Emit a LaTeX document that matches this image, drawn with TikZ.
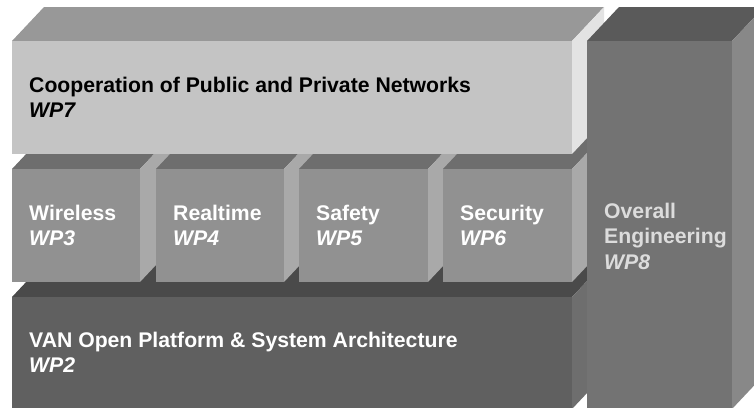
\documentclass[tikz,border=0pt]{standalone}
\usepackage{fontspec}
\setmainfont{Liberation Sans}
\definecolor{topA}{HTML}{989898}\definecolor{frontA}{HTML}{C4C4C4}\definecolor{sideA}{HTML}{E3E3E3}
\definecolor{topB}{HTML}{6E6E6E}\definecolor{frontB}{HTML}{919191}\definecolor{sideB}{HTML}{A9A9A9}
\definecolor{topC}{HTML}{4A4A4A}\definecolor{frontC}{HTML}{606060}\definecolor{sideC}{HTML}{6E6E6E}
\definecolor{topD}{HTML}{5A5A5A}\definecolor{frontD}{HTML}{737373}\definecolor{sideD}{HTML}{888888}
\definecolor{txtD}{HTML}{DCDCDC}
% #1 left x, #2 right x, #3 top y, #4 bottom y, #5 colour set
\newcommand{\wpblock}[5]{%
  \fill[top#5]   (#1,#3) -- ++(32,-34) -- (#2+32,#3-34) -- (#2,#3) -- cycle;
  \fill[side#5]  (#2,#3) -- ++(32,-34) -- (#2+32,#4-34) -- (#2,#4) -- cycle;
  \fill[front#5] (#1,#3) rectangle (#2,#4);
}
\tikzset{
  lbl/.style={anchor=base west, inner sep=0pt, font=\fontsize{21.2}{25}\selectfont\bfseries},
  wp/.style={lbl, font=\fontsize{21.2}{25}\selectfont\bfseries\itshape},
}
\begin{document}
\begin{tikzpicture}[x=1pt,y=-1pt]
\useasboundingbox (0,0) rectangle (754,407);
\clip (0,0) rectangle (754,407);
\fill[white] (0,0) rectangle (754,407);
% base platform WP2
\wpblock{12}{572}{297}{409}{C}
% four work packages
\wpblock{12}{140}{169}{282}{B}
\wpblock{156}{284}{169}{282}{B}
\wpblock{299}{428}{169}{282}{B}
\wpblock{443}{572}{169}{282}{B}
% cooperation WP7
\wpblock{12}{572}{41}{154}{A}
% overall engineering WP8
\wpblock{587}{732}{41}{409}{D}
% labels
\node[lbl] (t7) at (29,92) {Cooperation of Public and Private Networks};
\node[wp]  (w7) at (29,117.5) {WP7};
\node[lbl, white] (t3) at (29,220) {Wireless};
\node[wp, white]  (w3) at (29,245.5) {WP3};
\node[lbl, white] (t4) at (173,220) {Realtime};
\node[wp, white]  (w4) at (173,245.5) {WP4};
\node[lbl, white] (t5) at (316,220) {Safety};
\node[wp, white]  (w5) at (316,245.5) {WP5};
\node[lbl, white] (t6) at (460,220) {Security};
\node[wp, white]  (w6) at (460,245.5) {WP6};
\node[lbl, white] (t2) at (29,347) {VAN Open Platform \& System Architecture};
\node[wp, white]  (w2) at (29,372.5) {WP2};
\node[lbl, txtD] (t8a) at (604,218) {Overall};
\node[lbl, txtD] (t8b) at (604,243.5) {Engineering};
\node[wp, txtD]  (w8) at (604,269) {WP8};
\end{tikzpicture}
\end{document}
